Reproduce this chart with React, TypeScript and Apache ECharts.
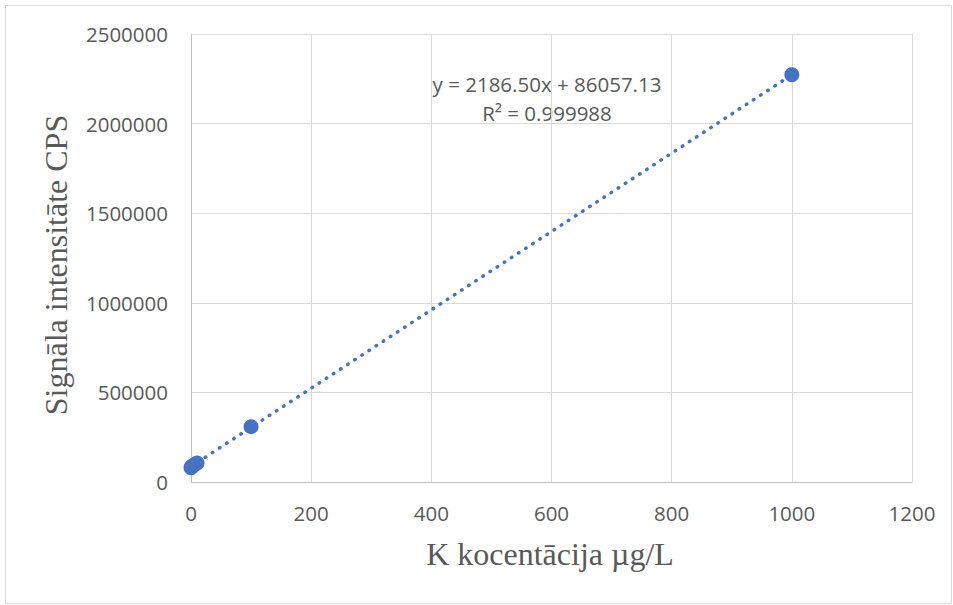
import React, { useEffect, useRef } from "react";
import * as echarts from "echarts";

const concentrations = [0, 1, 5, 10, 100, 1000];
const signals = [80000, 86000, 95000, 106000, 309000, 2272000];
const slope = 2186.5;
const intercept = 86057.13;
const trendRange = [0, 1000];
const equationText = "y = 2186.50x + 86057.13";
const r2Text = "R² = 0.999988";
const xTitle = "K kocentācija µg/L";
const yTitle = "Signāla intensitāte CPS";

export default function App() {
  const ref = useRef<HTMLDivElement>(null);
  useEffect(() => {
    document.body.style.margin = "0";
    const chart = echarts.init(ref.current!, undefined, { renderer: "svg" });
    const txt = "#595959";
    const tickFont = "'Open Sans', 'Noto Sans', sans-serif";
    chart.setOption({
      animation: false,
      backgroundColor: "#ffffff",
      grid: { left: 191, right: 41, top: 34, bottom: 123 },
      xAxis: {
        type: "value",
        min: 0,
        max: 1200,
        interval: 200,
        axisLine: { show: true, lineStyle: { color: "#bfbfbf", width: 1 } },
        axisTick: { show: false },
        splitLine: { show: true, lineStyle: { color: "#d9d9d9", width: 1 } },
        axisLabel: { color: txt, fontSize: 20.5, fontFamily: tickFont, margin: 20, formatter: (v: number) => String(v) },
      },
      yAxis: {
        type: "value",
        min: 0,
        max: 2500000,
        interval: 500000,
        axisLine: { show: true, lineStyle: { color: "#bfbfbf", width: 1 } },
        axisTick: { show: false },
        splitLine: { show: true, lineStyle: { color: "#d9d9d9", width: 1 } },
        axisLabel: { color: txt, fontSize: 20.5, fontFamily: tickFont, margin: 23, formatter: (v: number) => String(v) },
      },
      graphic: [
        {
          type: "rect",
          shape: { x: 5.5, y: 5.5, width: 946, height: 598 },
          style: { fill: "none", stroke: "#d9d9d9", lineWidth: 1 },
          silent: true,
          z: -10,
        },
        {
          type: "text",
          x: 547,
          y: 84,
          style: { text: equationText, fill: txt, font: `20.5px ${tickFont}`, align: "center", verticalAlign: "middle" },
        },
        {
          type: "text",
          x: 547,
          y: 113,
          style: { text: r2Text, fill: txt, font: `20.5px ${tickFont}`, align: "center", verticalAlign: "middle" },
        },
        {
          type: "text",
          x: 550,
          y: 554,
          style: { text: xTitle, fill: txt, font: "32px 'Liberation Serif', 'DejaVu Serif', serif", align: "center", verticalAlign: "middle" },
        },
        {
          type: "text",
          x: 56,
          y: 265,
          rotation: Math.PI / 2,
          style: { text: yTitle, fill: txt, font: "32px 'Liberation Serif', 'DejaVu Serif', serif", align: "center", verticalAlign: "middle" },
        },
      ],
      series: [
        {
          type: "line",
          data: trendRange.map((x) => [x, slope * x + intercept]),
          symbol: "none",
          lineStyle: { color: "#4472C4", width: 3.5, type: [0.5, 8], cap: "round" },
          z: 1,
        },
        {
          type: "scatter",
          data: concentrations.map((x, i) => [x, signals[i]]),
          symbolSize: 15,
          itemStyle: { color: "#4472C4", opacity: 1 },
          z: 2,
        },
      ],
    });
    return () => chart.dispose();
  }, []);
  return <div ref={ref} style={{ width: 953, height: 605 }} />;
}
